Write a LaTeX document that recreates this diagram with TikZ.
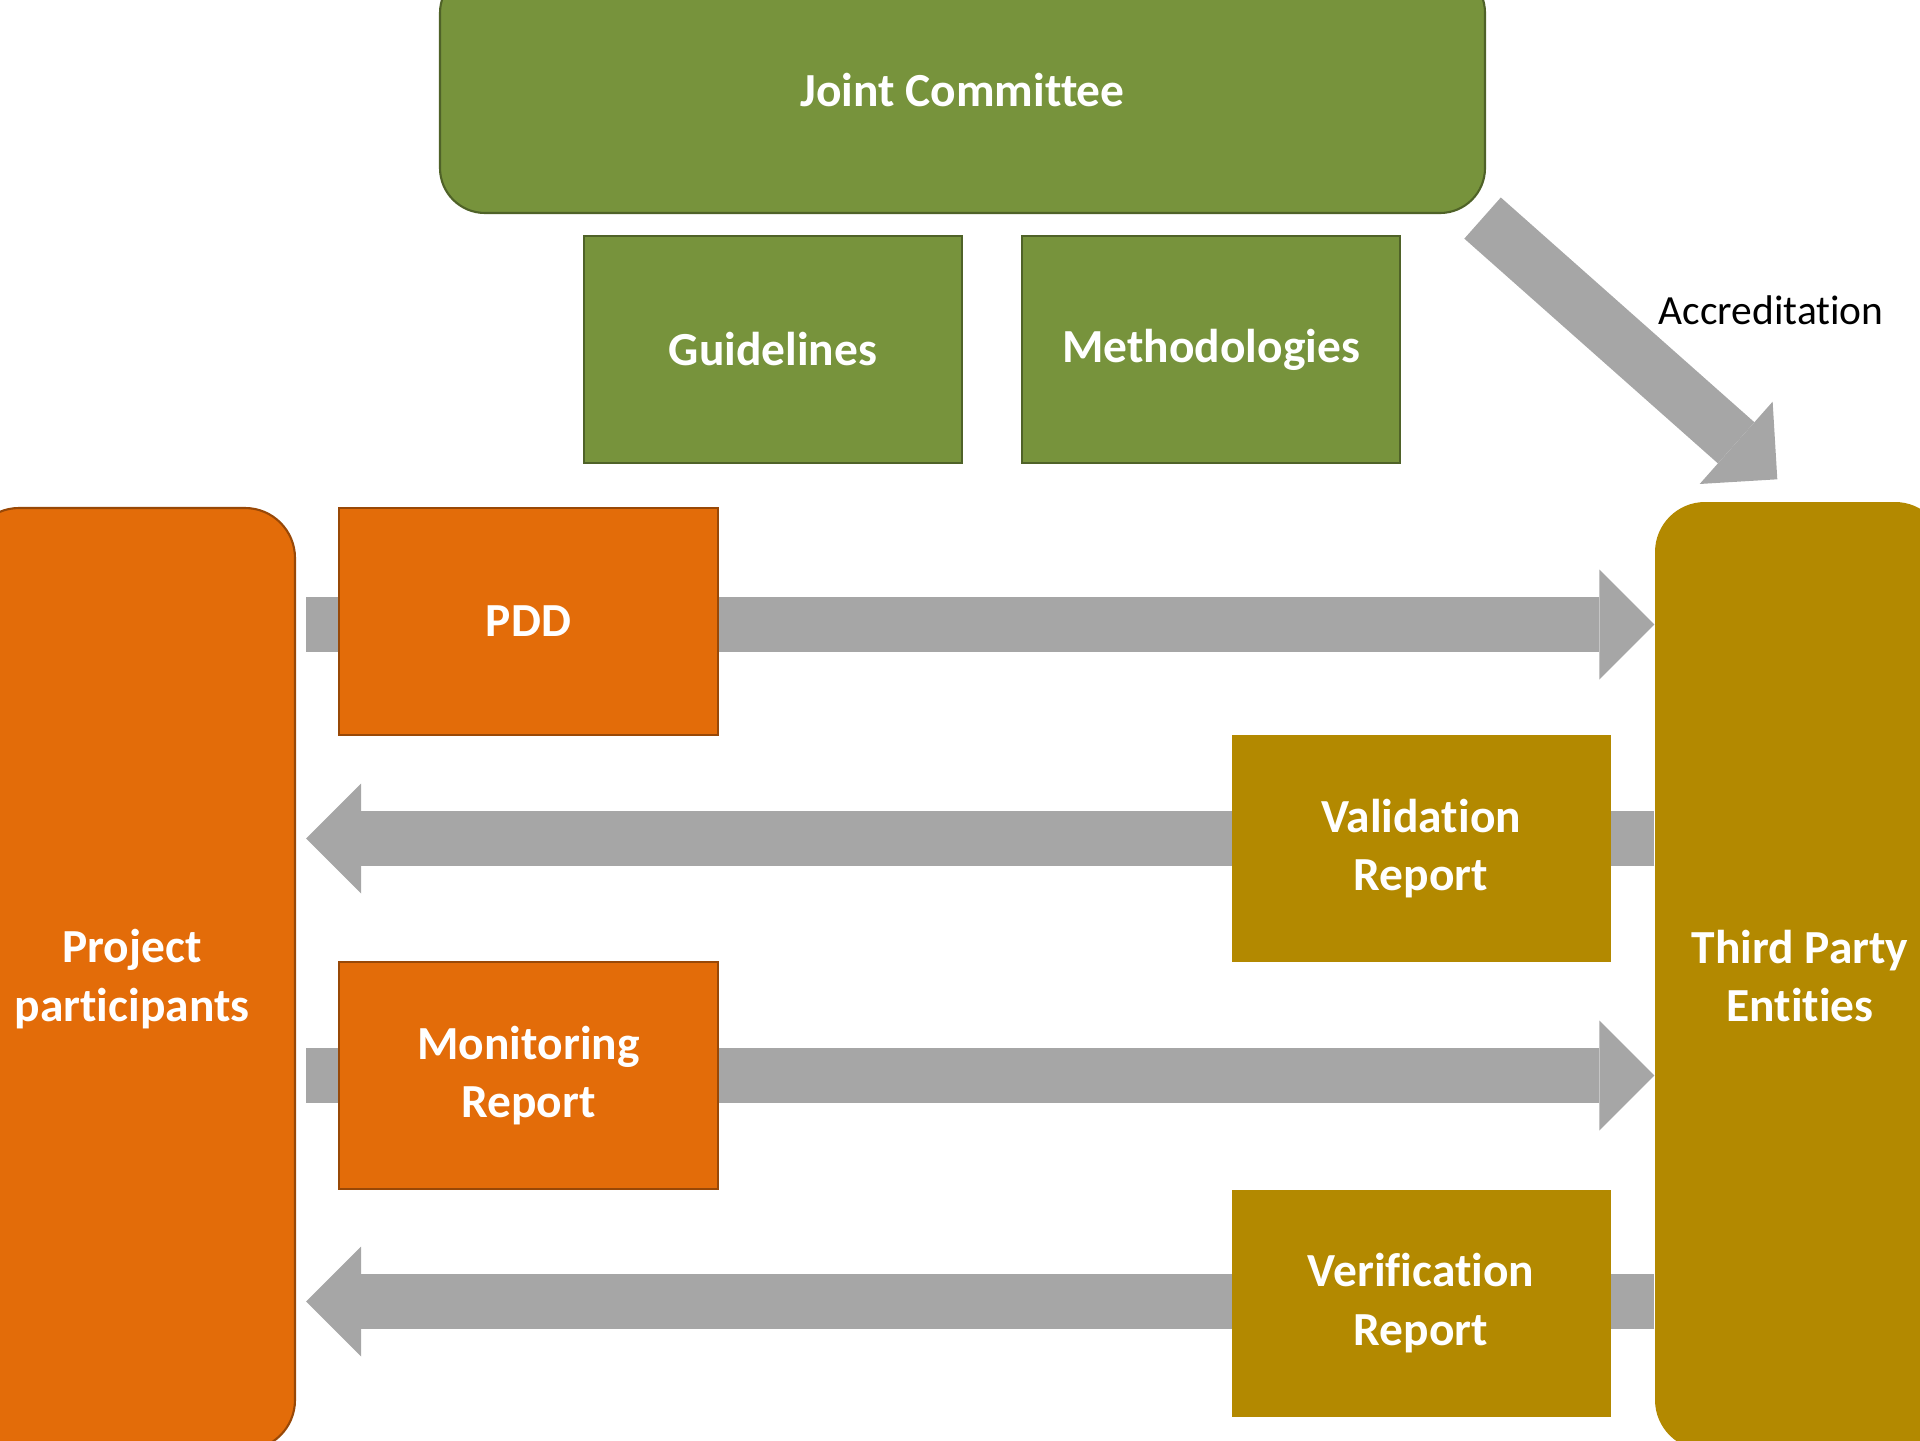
\documentclass[tikz,border=0pt]{standalone}
\usepackage{fontspec}
\setmainfont{Carlito}[Ligatures=NoCommon]
\usetikzlibrary{arrows.meta,positioning,calc,backgrounds}

\definecolor{jcgreen}{HTML}{77933C}
\definecolor{jcborder}{HTML}{4F6228}
\definecolor{pporange}{HTML}{E36C09}
\definecolor{ppborder}{HTML}{984807}
\definecolor{tpegold}{HTML}{B38900}
\definecolor{flowgray}{HTML}{A6A6A6}
\newcommand{\boxfont}{\fontsize{13.5}{16.7}\selectfont\bfseries}

\begin{document}
\begin{tikzpicture}[
    actor/.style={rectangle, rounded corners=0.5cm, text=white, font=\boxfont, align=center},
    committee/.style={actor, rounded corners=0.45cm, draw=jcborder, fill=jcgreen, line width=0.6pt, minimum width=10.45cm, minimum height=2.45cm},
    rulebox/.style={rectangle, draw=jcborder, fill=jcgreen, line width=0.6pt, minimum width=3.78cm, minimum height=2.27cm, text=white, font=\boxfont, align=center},
    doc/.style={rectangle, minimum width=3.79cm, minimum height=2.27cm, text=white, font=\boxfont, align=center},
    ppdoc/.style={doc, draw=ppborder, fill=pporange, line width=0.6pt},
    tpedoc/.style={doc, fill=tpegold},
    flow/.style={draw=flowgray, line width=0.55cm, -{Triangle[length=0.55cm, width=1.1cm, line width=0pt]}}
]
\useasboundingbox (0,0) rectangle (19.2,-14.4);
\clip (0,0) rectangle (19.2,-14.4);

% governing body
\node (jc) [committee] at (9.625,-0.905) {Joint Committee};
\node (guide) [rulebox] at (7.73,-3.495) {Guidelines};
\node (method) [rulebox, right=0.58cm of guide] {Methodologies};

% the two sides
\node (pp) [actor, draw=ppborder, fill=pporange, line width=0.6pt, minimum width=3.26cm, minimum height=9.42cm] at (1.32,-9.79) {Project\\participants};
\node (tpe) [actor, fill=tpegold, minimum width=2.9cm, minimum height=9.48cm] at (18.0,-9.76) {Third Party\\Entities};

% documents
\node (pdd) [ppdoc] at (5.285,-6.215) {PDD};
\node (valid) [tpedoc] at (14.21,-8.485) {Validation\\Report};
\node (monit) [ppdoc] at (5.285,-10.755) {Monitoring\\Report};
\node (verif) [tpedoc] at (14.21,-13.03) {Verification\\Report};

\begin{scope}[on background layer]
\draw [flow] ($(pp.east |- pdd)+(0.1,-0.03)$) -- ($(tpe.west |- pdd)+(0,-0.03)$);
\draw [flow] ($(tpe.west |- valid)+(0,0.1)$) -- ($(pp.east |- valid)+(0.1,0.1)$);
\draw [flow] ($(pp.east |- monit)+(0.1,0)$) -- (tpe.west |- monit);
\draw [flow] ($(tpe.west |- verif)+(0,0.015)$) -- ($(pp.east |- verif)+(0.1,0.015)$);
\draw [flow] ([shift={(-0.035,-0.04)}]jc.south east) -- node[pos=0.5, anchor=west, xshift=-0.105cm, yshift=0.38cm, text=black, font=\fontsize{11.8}{14}\selectfont] {Accreditation} ([shift={(1.23,0.22)}]tpe.north west);
\end{scope}
\end{tikzpicture}
\end{document}
